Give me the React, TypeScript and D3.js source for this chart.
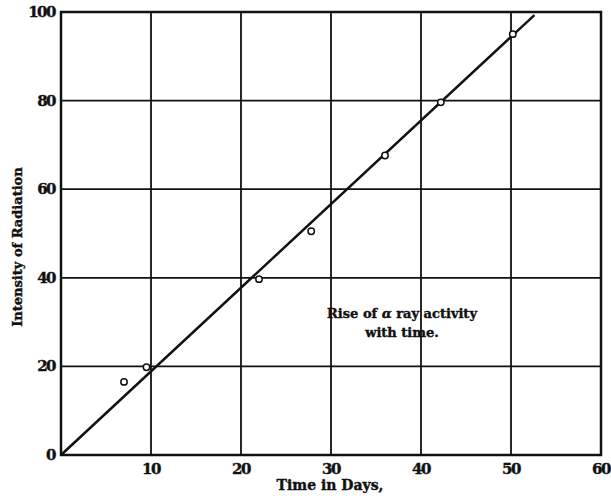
import React, { useEffect, useRef } from "react";
import * as d3 from "d3";

// observed points (days, intensity)
const days = [7, 9.5, 22, 27.8, 36, 42.2, 50.2];
const intensity = [16.5, 19.8, 39.7, 50.5, 67.6, 79.6, 95];
// fitted straight line end points
const lineDays = [0, 52.6];
const lineIntensity = [0, 99.3];
const xTicks = [10, 20, 30, 40, 50, 60];
const yTicks = [0, 20, 40, 60, 80, 100];

const W = 611;
const H = 500;
const FONT = "'DejaVu Serif', serif";

export default function App() {
  const ref = useRef<SVGSVGElement>(null);

  useEffect(() => {
    const svg = d3.select(ref.current);
    svg.selectAll("*").remove();

    const x = d3.scaleLinear().domain([0, 60]).range([61, 601]);
    const y = d3.scaleLinear().domain([0, 100]).range([455, 12]);

    svg.append("rect").attr("width", W).attr("height", H).attr("fill", "#fff");

    const g = svg.append("g");

    // grid
    g.selectAll(".vg")
      .data(xTicks)
      .enter()
      .append("line")
      .attr("x1", (d) => x(d))
      .attr("x2", (d) => x(d))
      .attr("y1", y(0))
      .attr("y2", y(100))
      .attr("stroke", "#111")
      .attr("stroke-width", 1.8);

    g.selectAll(".hg")
      .data(yTicks)
      .enter()
      .append("line")
      .attr("x1", x(0))
      .attr("x2", x(60))
      .attr("y1", (d) => y(d))
      .attr("y2", (d) => y(d))
      .attr("stroke", "#111")
      .attr("stroke-width", 1.8);

    // frame
    g.append("rect")
      .attr("x", x(0))
      .attr("y", y(100))
      .attr("width", x(60) - x(0))
      .attr("height", y(0) - y(100))
      .attr("fill", "none")
      .attr("stroke", "#111")
      .attr("stroke-width", 2.5);

    // heavy old print look for text
    const heavy = (sel: any) =>
      sel
        .attr("font-family", FONT)
        .attr("font-weight", "bold")
        .attr("fill", "#111")
        .attr("stroke", "#111")
        .attr("stroke-width", 0.4);

    // tick labels
    g.selectAll(".yl")
      .data(yTicks)
      .enter()
      .append("text")
      .attr("x", 55)
      .attr("y", (d) => y(d) + 5)
      .attr("text-anchor", "end")
      .call(heavy)
      .attr("font-size", 15)
      .attr("letter-spacing", -1.5)
      .text((d) => d);

    g.selectAll(".xl")
      .data(xTicks)
      .enter()
      .append("text")
      .attr("x", (d) => x(d))
      .attr("y", 474)
      .attr("text-anchor", "middle")
      .call(heavy)
      .attr("font-size", 15)
      .attr("letter-spacing", -1.5)
      .text((d) => d);

    // axis titles
    g.append("text")
      .attr("x", 330)
      .attr("y", 490)
      .attr("text-anchor", "middle")
      .call(heavy)
      .attr("font-size", 14)
      .text("Time in Days,");

    g.append("text")
      .attr("transform", "translate(22,247) rotate(-90)")
      .attr("text-anchor", "middle")
      .call(heavy)
      .attr("font-size", 13)
      .text("Intensity of Radiation");

    // fitted line
    const line = d3
      .line<number>()
      .x((d) => x(lineDays[d]))
      .y((d) => y(lineIntensity[d]));
    g.append("path")
      .datum([0, 1])
      .attr("d", line)
      .attr("fill", "none")
      .attr("stroke", "#111")
      .attr("stroke-width", 2.5);

    // points
    g.selectAll(".pt")
      .data(days)
      .enter()
      .append("circle")
      .attr("cx", (d) => x(d))
      .attr("cy", (_, i) => y(intensity[i]))
      .attr("r", 3.2)
      .attr("fill", "#fff")
      .attr("stroke", "#111")
      .attr("stroke-width", 1.5);

    // annotation
    const note = g
      .append("text")
      .call(heavy)
      .attr("font-size", 13)
      .attr("text-anchor", "middle");
    note
      .append("tspan")
      .attr("x", 402)
      .attr("y", 318)
      .text("Rise of ")
      .append("tspan")
      .attr("font-style", "italic")
      .text("α");
    note.select("tspan").append("tspan").text(" ray activity");
    note.append("tspan").attr("x", 402).attr("y", 337).text("with time.");
  }, []);

  return (
    <svg
      ref={ref}
      width={W}
      height={H}
      style={{ position: "absolute", left: 0, top: 0 }}
    />
  );
}
